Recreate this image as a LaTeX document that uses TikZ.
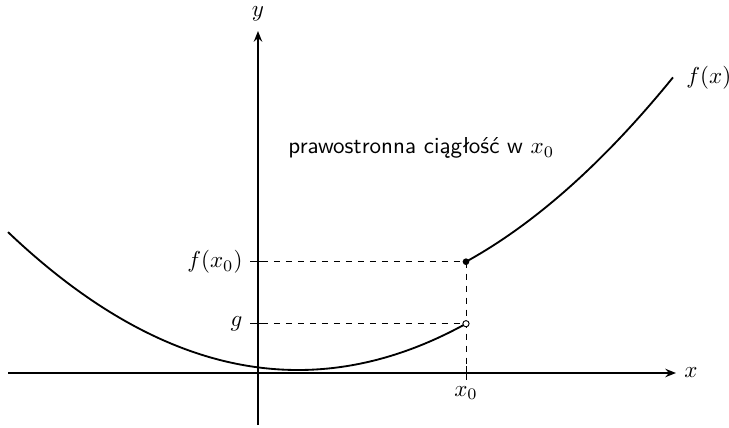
\documentclass[tikz,border=0pt]{standalone}
\usetikzlibrary{arrows.meta}
\begin{document}
\begin{tikzpicture}[x=0.434pt,y=-0.434pt,
  axis/.style={thick,-{Stealth[length=4.6pt,width=3.6pt]}},
  curve/.style={thick},
  guide/.style={thin,dash pattern=on 2.8pt off 2.4pt},
  tick/.style={thin},
  lbl/.style={inner sep=0pt}]
\useasboundingbox (0,0) rectangle (729,428);
% axes
\coordinate (xs) at (8,373);
\coordinate (xe) at (676,373);
\coordinate (ys) at (258,425);
\coordinate (ye) at (258,31);
\draw[axis] (xs) -- (xe);
\draw[axis] (ys) -- (ye);
\node[lbl,anchor=west] (xl) at (684,373) {$x$};
\node[lbl] (yl) at (258,14) {$y$};
% curve pieces
\draw[curve] plot[domain=8:466,samples=120,smooth] (\x,{370-16.4*((\x-298)/100)^2});
\draw[curve] plot[domain=466:673,samples=120,smooth] (\x,{308-16.4*((\x-298)/100)^2});
\node[lbl,anchor=west] (fl) at (686,78) {$f(x)$};
% points
\coordinate (P) at (466,261.7);
\coordinate (Q) at (466,323.7);
\coordinate (X0) at (466,373);
\coordinate (Yf) at (250,261.7);
\coordinate (Yg) at (250,323.7);
\draw[guide] (Yf) -- (P);
\draw[guide] (Yg) -- (Q);
\draw[guide] (P) -- (X0);
\draw[tick] (250,261.7) -- (266,261.7);
\draw[tick] (250,323.7) -- (266,323.7);
\draw[tick] (466,366) -- (466,380);
\fill (P) circle (1.45pt);
\filldraw[fill=white,thin] (Q) circle (1.35pt);
% labels
\node[lbl,anchor=east] (lf) at (243,262) {$f(x_0)$};
\node[lbl,anchor=east] (lg) at (243,324) {$g$};
\node[lbl] (lx0) at (466,393) {$x_0$};
\node[lbl,anchor=west] (txt) at (288,148) {\sffamily prawostronna ciągłość w $x_0$};
\end{tikzpicture}
\end{document}
